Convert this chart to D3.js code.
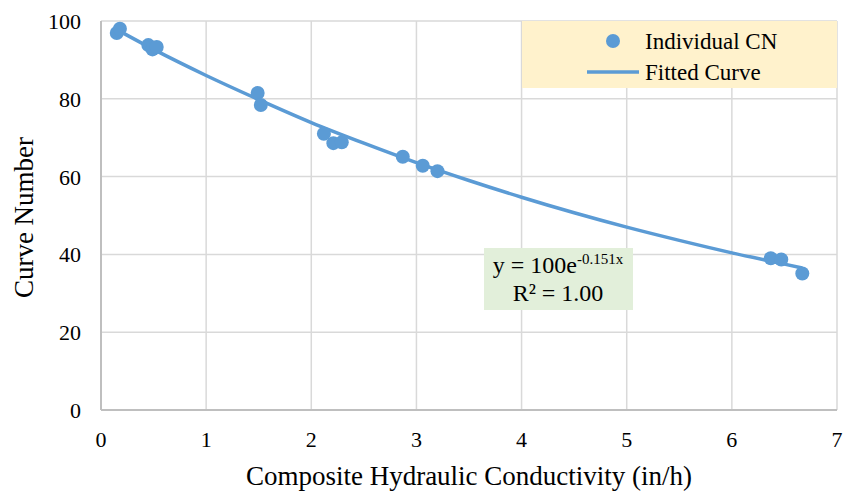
<!DOCTYPE html>
<html>
<head>
<meta charset="utf-8" />
<title>Curve Number vs Composite Hydraulic Conductivity</title>
<script src="https://cdn.jsdelivr.net/npm/d3@7"></script>
<style>
  body { margin: 0; background: #fff; }
  text { font-family: "Liberation Serif", "Times New Roman", serif; fill: #000; }
</style>
</head>
<body>
<script>
// individual CN points
var cnX = [0.15, 0.18, 0.45, 0.49, 0.53, 1.49, 1.52, 2.12, 2.21, 2.29, 2.87, 3.06, 3.20, 6.37, 6.47, 6.67];
var cnY = [96.9, 98.0, 93.8, 92.7, 93.3, 81.5, 78.4, 71.0, 68.6, 68.8, 65.1, 62.8, 61.4, 39.0, 38.7, 35.1];

// fitted curve
var fitX = [0.15, 0.5, 1, 1.5, 2, 2.5, 3, 3.5, 4, 4.5, 5, 5.5, 6, 6.5, 6.67];
var fitY = [97.8, 92.7, 86.0, 79.8, 73.9, 68.6, 63.6, 59.0, 54.7, 50.7, 47.0, 43.6, 40.4, 37.5, 36.5];

var xTicks = [0, 1, 2, 3, 4, 5, 6, 7];
var yTicks = [0, 20, 40, 60, 80, 100];

var width = 847, height = 493;
var margin = {top: 21, right: 10, bottom: 83, left: 101};
var blue = "#5b9bd5";

var svg = d3.select("body").append("svg")
  .attr("width", width).attr("height", height);

var xScale = d3.scaleLinear().domain([0, 7]).range([margin.left, 837]);
var yScale = d3.scaleLinear().domain([0, 100]).range([410, margin.top]);

// gridlines
svg.append("g").selectAll("line").data(xTicks.slice(1)).join("line")
  .attr("x1", d => xScale(d)).attr("x2", d => xScale(d))
  .attr("y1", yScale(0)).attr("y2", yScale(100))
  .attr("stroke", "#d9d9d9").attr("stroke-width", 1.5);
svg.append("g").selectAll("line").data(yTicks.slice(1)).join("line")
  .attr("x1", xScale(0)).attr("x2", xScale(7))
  .attr("y1", d => yScale(d)).attr("y2", d => yScale(d))
  .attr("stroke", "#d9d9d9").attr("stroke-width", 1.5);

// axes lines
svg.append("line")
  .attr("x1", xScale(0)).attr("x2", xScale(0))
  .attr("y1", yScale(0)).attr("y2", yScale(100))
  .attr("stroke", "#bfbfbf").attr("stroke-width", 2);
svg.append("line")
  .attr("x1", xScale(0)).attr("x2", xScale(7))
  .attr("y1", yScale(0)).attr("y2", yScale(0))
  .attr("stroke", "#bfbfbf").attr("stroke-width", 2);

// tick labels
svg.append("g").selectAll("text").data(yTicks).join("text")
  .attr("x", 81).attr("y", d => yScale(d) + 8)
  .attr("text-anchor", "end").attr("font-size", "22px")
  .text(d => d);
svg.append("g").selectAll("text").data(xTicks).join("text")
  .attr("x", d => xScale(d)).attr("y", 447)
  .attr("text-anchor", "middle").attr("font-size", "22px")
  .text(d => d);

// axis titles
svg.append("text")
  .attr("x", (xScale(0) + xScale(7)) / 2).attr("y", 485)
  .attr("text-anchor", "middle").attr("font-size", "27px")
  .text("Composite Hydraulic Conductivity (in/h)");
svg.append("text")
  .attr("transform", "translate(33," + (yScale(50) + 2) + ") rotate(-90)")
  .attr("text-anchor", "middle").attr("font-size", "27px")
  .text("Curve Number");

// fitted curve
var line = d3.line()
  .x(d => xScale(d[0]))
  .y(d => yScale(d[1]))
  .curve(d3.curveMonotoneX);
svg.append("path")
  .datum(d3.zip(fitX, fitY))
  .attr("fill", "none").attr("stroke", blue).attr("stroke-width", 3.5)
  .attr("d", line);

// points
svg.append("g").selectAll("circle").data(d3.zip(cnX, cnY)).join("circle")
  .attr("cx", d => xScale(d[0])).attr("cy", d => yScale(d[1]))
  .attr("r", 7).attr("fill", blue);

// legend
var legend = svg.append("g");
legend.append("rect")
  .attr("x", 522).attr("y", 21).attr("width", 315).attr("height", 67)
  .attr("fill", "#fff2cc");
legend.append("circle").attr("cx", 613).attr("cy", 41).attr("r", 7).attr("fill", blue);
legend.append("text").attr("x", 645).attr("y", 49).attr("font-size", "23px").text("Individual CN");
legend.append("line").attr("x1", 587).attr("x2", 639).attr("y1", 72).attr("y2", 72)
  .attr("stroke", blue).attr("stroke-width", 3.5);
legend.append("text").attr("x", 645).attr("y", 80).attr("font-size", "23px").text("Fitted Curve");

// equation label
var eq = svg.append("g");
eq.append("rect")
  .attr("x", 484).attr("y", 248).attr("width", 149).attr("height", 62)
  .attr("fill", "#e2efda");
var t1 = eq.append("text").attr("x", 558).attr("y", 273)
  .attr("text-anchor", "middle").attr("font-size", "24px");
t1.append("tspan").text("y = 100e");
t1.append("tspan").attr("font-size", "15px").attr("dy", -9).text("-0.151x");
eq.append("text").attr("x", 558).attr("y", 301)
  .attr("text-anchor", "middle").attr("font-size", "24px")
  .text("R² = 1.00");
</script>
</body>
</html>
